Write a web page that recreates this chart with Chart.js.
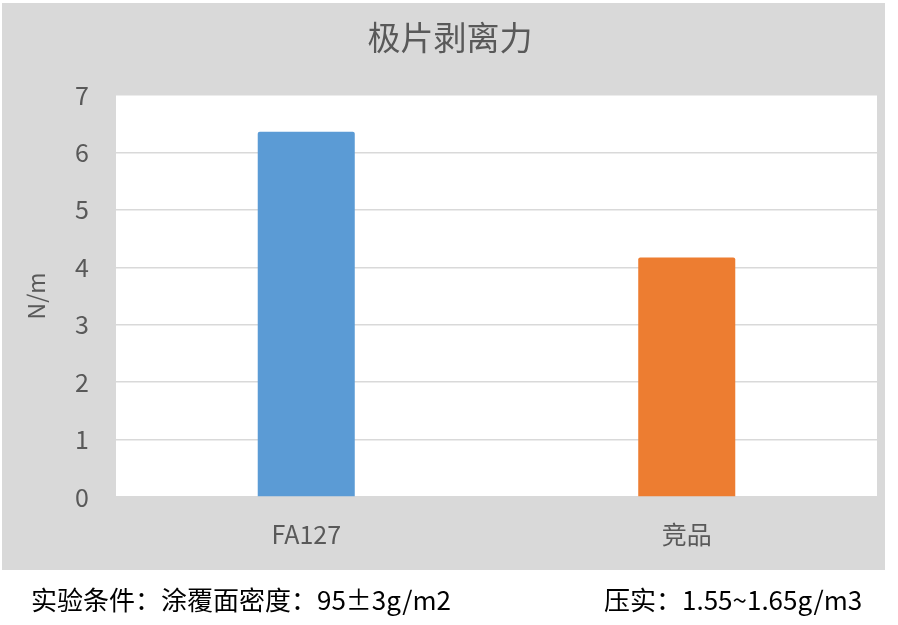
<!DOCTYPE html>
<html>
<head>
<meta charset="utf-8">
<script src="https://cdn.jsdelivr.net/npm/chart.js@4/dist/chart.umd.min.js"></script>
<style>
  html, body { margin: 0; padding: 0; background: #fff; }
  #wrap { position: relative; width: 898px; height: 625px; }
</style>
</head>
<body>
<div id="wrap"><canvas id="chartCanvas" width="898" height="625"></canvas></div>
<script>
const categories = ['FA127', '竞品'];
const peelForce = [6.36, 4.17];
const barColors = ['#5B9BD5', '#ED7D31'];
const chartTitle = '极片剥离力';
const yTitle = 'N/m';
const noteLeft = '实验条件：涂覆面密度：95±3g/m2';
const noteRight = '压实：1.55~1.65g/m3';

const fontFamily = '"Noto Sans CJK SC", "Noto Sans", sans-serif';

// backgrounds, title and notes drawn around the chart
const decorPlugin = {
    id: 'decor',
    beforeDraw(chart) {
        const ctx = chart.ctx;
        const area = chart.chartArea;
        ctx.save();
        ctx.fillStyle = '#fff';
        ctx.fillRect(0, 0, chart.width, chart.height);
        ctx.fillStyle = '#d9d9d9';
        ctx.fillRect(2, 3, 883, 567);
        ctx.fillStyle = '#fff';
        ctx.fillRect(area.left, area.top, area.right - area.left, area.bottom - area.top);
        ctx.restore();
    },
    afterDraw(chart) {
        const ctx = chart.ctx;
        ctx.save();
        ctx.fillStyle = '#595959';
        ctx.font = '33px ' + fontFamily;
        ctx.textAlign = 'center';
        ctx.textBaseline = 'middle';
        ctx.fillText(chartTitle, 450, 37);

        ctx.fillStyle = '#000';
        ctx.font = '26px ' + fontFamily;
        ctx.textAlign = 'left';
        ctx.fillText(noteLeft, 31, 600);
        ctx.fillText(noteRight, 604, 600);
        ctx.restore();
    }
};

const context = document.getElementById('chartCanvas').getContext('2d');
const chart = new Chart(context, {
    type: 'bar',
    data: {
        labels: categories,
        datasets: [{
            data: peelForce,
            backgroundColor: barColors,
            borderWidth: 0,
            borderRadius: 2,
            categoryPercentage: 1,
            barPercentage: 0.255
        }]
    },
    options: {
        responsive: false,
        animation: false,
        layout: { padding: { top: 95, right: 21, left: 0, bottom: 0 } },
        plugins: {
            legend: { display: false },
            title: { display: false },
            tooltip: { enabled: false }
        },
        scales: {
            x: {
                grid: { display: false, drawTicks: false },
                border: { display: false },
                ticks: {
                    color: '#595959',
                    font: { family: fontFamily, size: 25 },
                    padding: 22
                },
                afterFit(scale) { scale.height = 128; }
            },
            y: {
                min: 0,
                max: 7,
                ticks: {
                    stepSize: 1,
                    color: '#595959',
                    font: { family: fontFamily, size: 25 },
                    padding: 27
                },
                grid: { color: '#d9d9d9', lineWidth: 1.5, drawTicks: false },
                border: { display: false },
                title: {
                    display: true,
                    text: yTitle,
                    color: '#595959',
                    font: { family: fontFamily, size: 23 },
                    padding: { top: 22, bottom: 0 }
                },
                afterFit(scale) { scale.width = 116; }
            }
        }
    },
    plugins: [decorPlugin]
});
</script>
</body>
</html>
